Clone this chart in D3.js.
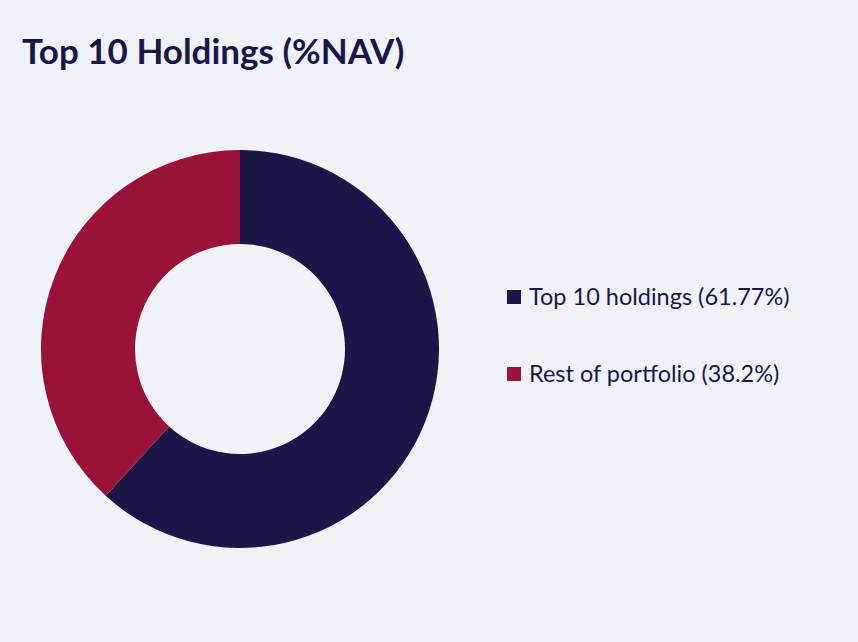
<!DOCTYPE html>
<html>
<head>
<meta charset="utf-8">
<script src="https://cdn.jsdelivr.net/npm/d3@7"></script>
<style>
  html, body { margin: 0; padding: 0; background: #eff3f8; }
  svg { display: block; }
</style>
</head>
<body>
<div id="chart"></div>
<script>
// data
const categories = ["Top 10 holdings", "Rest of portfolio"];
const values     = [61.77, 38.2];
const labels     = ["Top 10 holdings (61.77%)", "Rest of portfolio (38.2%)"];
const colours    = ["#1a1648", "#9b1239"];

const W = 858, H = 642;
const cx = 240, cy = 349, outerR = 199, innerR = 105;

const svg = d3.select("#chart")
  .append("svg")
    .attr("width", W)
    .attr("height", H);

svg.append("rect")
  .attr("width", W).attr("height", H)
  .attr("fill", "#eff3f8");

// title
svg.append("text")
  .attr("x", 22)
  .attr("y", 64)
  .attr("font-family", "Lato, 'Noto Sans', sans-serif")
  .attr("font-weight", 700)
  .attr("font-size", 35)
  .attr("fill", "#1a1648")
  .text("Top 10 Holdings (%NAV)");

// donut
const pie = d3.pie().sort(null).value(d => d);
const arc = d3.arc().innerRadius(innerR).outerRadius(outerR);

const g = svg.append("g")
  .attr("transform", `translate(${cx}, ${cy})`);

g.selectAll("path")
  .data(pie(values))
  .enter()
  .append("path")
    .attr("d", arc)
    .attr("fill", (d, i) => colours[i]);

// legend
const legend = svg.append("g")
  .attr("transform", "translate(507, 290)");

const item = legend.selectAll("g")
  .data(categories)
  .enter()
  .append("g")
    .attr("transform", (d, i) => `translate(0, ${i * 77})`);

item.append("rect")
  .attr("width", 14)
  .attr("height", 14)
  .attr("fill", (d, i) => colours[i]);

item.append("text")
  .attr("x", 22)
  .attr("y", 15)
  .attr("font-family", "Lato, 'Noto Sans', sans-serif")
  .attr("font-size", 23.5)
  .attr("fill", "#1a1648")
  .text((d, i) => labels[i]);
</script>
</body>
</html>
